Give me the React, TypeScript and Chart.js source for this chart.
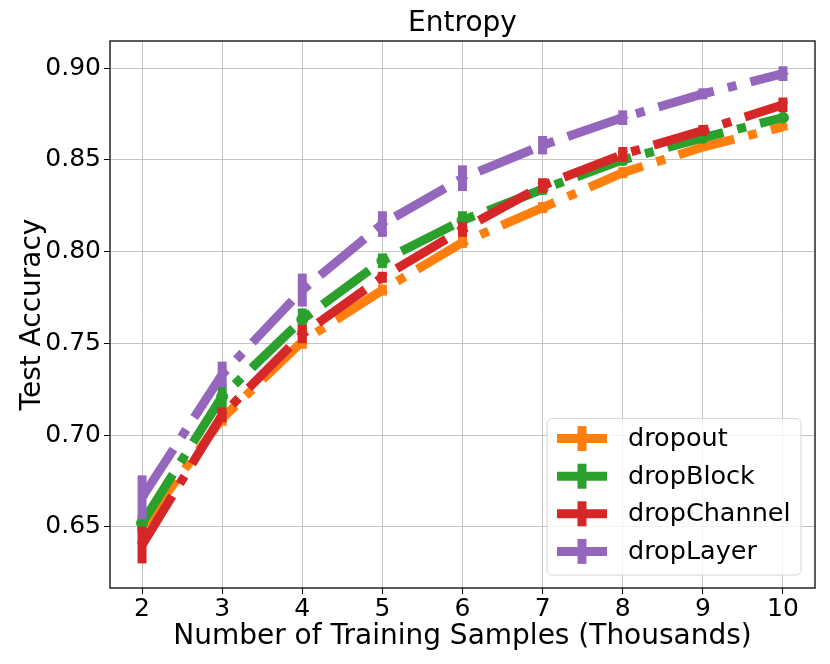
import { useEffect, useRef } from "react";
import { Chart, registerables } from "chart.js";

Chart.register(...registerables);

const samples = [2, 3, 4, 5, 6, 7, 8, 9, 10];
const seriesNames = ["dropout", "dropBlock", "dropChannel", "dropLayer"];
const dropoutAcc = [0.650, 0.709, 0.751, 0.779, 0.805, 0.824, 0.843, 0.857, 0.868];
const dropBlockAcc = [0.652, 0.721, 0.763, 0.795, 0.817, 0.834, 0.850, 0.862, 0.873];
const dropChannelAcc = [0.640, 0.711, 0.755, 0.786, 0.812, 0.836, 0.853, 0.866, 0.880];
const dropLayerAcc = [0.666, 0.733, 0.779, 0.815, 0.840, 0.858, 0.873, 0.886, 0.897];
const dropoutErr = [0.004, 0.004, 0.004, 0.003, 0.003, 0.003, 0.003, 0.002, 0.002];
const dropBlockErr = [0.004, 0.007, 0.006, 0.004, 0.005, 0.003, 0.003, 0.002, 0.002];
const dropChannelErr = [0.010, 0.004, 0.005, 0.003, 0.004, 0.004, 0.004, 0.003, 0.004];
const dropLayerErr = [0.012, 0.007, 0.009, 0.007, 0.007, 0.005, 0.004, 0.003, 0.004];
const xTickValues = [2, 3, 4, 5, 6, 7, 8, 9, 10];
const yTickValues = [0.65, 0.7, 0.75, 0.8, 0.85, 0.9];
const chartTitle = "Entropy";

const FONT = "DejaVu Sans";
const colors = ["#ff7f0e", "#2ca02c", "#d62728", "#9467bd"];
const pointStyles = ["triangle", "circle", "triangle", "triangle"];
const pointRotations = [0, 0, 180, 90];
const LW = 9;

const errorBarPlugin = {
  id: "errorBars",
  afterDatasetDraw(chart: any, args: any) {
    const ds: any = chart.data.datasets[args.index];
    const errs: number[] = ds.errors;
    if (!errs) return;
    const ctx = chart.ctx;
    const xs = chart.scales.x;
    const ys = chart.scales.y;
    ctx.save();
    ctx.strokeStyle = ds.borderColor;
    ctx.lineWidth = LW;
    ctx.lineCap = "butt";
    ds.data.forEach((p: any, i: number) => {
      const px = xs.getPixelForValue(p.x);
      ctx.beginPath();
      ctx.moveTo(px, ys.getPixelForValue(p.y - errs[i]));
      ctx.lineTo(px, ys.getPixelForValue(p.y + errs[i]));
      ctx.stroke();
    });
    ctx.restore();
  },
};

const framePlugin = {
  id: "frame",
  afterDatasetsDraw(chart: any) {
    const { ctx, chartArea: a } = chart;
    ctx.save();
    ctx.strokeStyle = "#262626";
    ctx.lineWidth = 1.5;
    ctx.strokeRect(a.left, a.top, a.right - a.left, a.bottom - a.top);
    ctx.fillStyle = "#000";
    ctx.font = `28px "${FONT}"`;
    ctx.textAlign = "center";
    ctx.textBaseline = "middle";
    ctx.fillText(chartTitle, (a.left + a.right) / 2, 24);
    ctx.restore();
  },
};

const legendPlugin = {
  id: "innerLegend",
  afterDraw(chart: any) {
    const ctx = chart.ctx;
    const a = chart.chartArea;
    const boxRight = a.right - 14;
    const boxBottom = a.bottom - 13;
    const boxW = 254;
    const rowH = 37.6;
    const n = chart.data.datasets.length;
    const boxH = rowH * n + 6;
    const left = boxRight - boxW;
    const top = boxBottom - boxH;
    ctx.save();
    ctx.fillStyle = "rgba(255,255,255,0.8)";
    ctx.strokeStyle = "#d6d6d6";
    ctx.lineWidth = 1;
    ctx.beginPath();
    (ctx as any).roundRect(left, top, boxW, boxH, 5);
    ctx.fill();
    ctx.stroke();
    chart.data.datasets.forEach((ds: any, i: number) => {
      const cy = top + 20 + i * rowH;
      ctx.strokeStyle = ds.borderColor;
      ctx.lineWidth = LW;
      ctx.lineCap = "butt";
      ctx.beginPath();
      ctx.moveTo(left + 10, cy);
      ctx.lineTo(left + 60, cy);
      ctx.stroke();
      ctx.beginPath();
      ctx.moveTo(left + 35, cy - 12.5);
      ctx.lineTo(left + 35, cy + 12.5);
      ctx.stroke();
      ctx.fillStyle = "#000";
      ctx.font = `25.5px "${FONT}"`;
      ctx.textBaseline = "middle";
      ctx.textAlign = "left";
      ctx.fillText(ds.label, left + 81, cy + 1);
    });
    ctx.restore();
  },
};

export default function App() {
  const ref = useRef<HTMLCanvasElement | null>(null);
  useEffect(() => {
    document.body.style.margin = "0";
    if (!ref.current) return;
    const accs = [dropoutAcc, dropBlockAcc, dropChannelAcc, dropLayerAcc];
    const errs = [dropoutErr, dropBlockErr, dropChannelErr, dropLayerErr];
    const datasets: any[] = seriesNames.map((name, i) => ({
      label: name,
      data: samples.map((x, j) => ({ x, y: accs[i][j] })),
      errors: errs[i],
      borderColor: colors[i],
      backgroundColor: colors[i],
      borderWidth: LW,
      borderDash: [57.6, 14.4, 9, 14.4],
      borderCapStyle: "butt",
      borderJoinStyle: "round",
      pointStyle: pointStyles[i],
      rotation: pointRotations[i],
      pointRadius: 5.5,
      pointBorderWidth: 1,
      pointBackgroundColor: colors[i],
      pointBorderColor: colors[i],
      tension: 0,
      fill: false,
      order: 3 - i,
    }));
    const chart = new Chart(ref.current, {
      type: "line",
      data: { datasets },
      plugins: [errorBarPlugin, framePlugin, legendPlugin],
      options: {
        animation: false,
        responsive: false,
        devicePixelRatio: 1,
        layout: { padding: { left: 0, right: 15, top: 41, bottom: 0 } },
        plugins: {
          legend: { display: false },
          tooltip: { enabled: false },
          title: { display: false },
        },
        scales: {
          x: {
            type: "linear",
            min: 1.6,
            max: 10.4,
            afterBuildTicks: (s: any) => {
              s.ticks = xTickValues.map((v) => ({ value: v }));
            },
            afterFit: (s: any) => {
              s.height = 76;
            },
            ticks: {
              color: "#000",
              font: { family: FONT, size: 25 },
              padding: 0,
              maxRotation: 0,
              autoSkip: false,
              callback: (v: any) => String(v),
            },
            grid: { color: "#c4c4c4", lineWidth: 1, tickLength: 6, tickColor: "#000" },
            border: { display: false },
            title: {
              display: true,
              text: "Number of Training Samples (Thousands)",
              color: "#000",
              font: { family: FONT, size: 28 },
              padding: { top: 0, bottom: 10 },
            },
          },
          y: {
            type: "linear",
            min: 0.6166,
            max: 0.9148,
            afterBuildTicks: (s: any) => {
              s.ticks = yTickValues.map((v) => ({ value: v }));
            },
            afterFit: (s: any) => {
              s.width = 110;
            },
            ticks: {
              color: "#000",
              font: { family: FONT, size: 25 },
              padding: 3,
              autoSkip: false,
              callback: (v: any) => Number(v).toFixed(2),
            },
            grid: { color: "#c4c4c4", lineWidth: 1, tickLength: 6, tickColor: "#000" },
            border: { display: false },
            title: {
              display: true,
              text: "Test Accuracy",
              color: "#000",
              font: { family: FONT, size: 28 },
              padding: { top: 16, bottom: 0 },
            },
          },
        },
      },
    });
    return () => chart.destroy();
  }, []);
  return <canvas ref={ref} width={830} height={664} style={{ display: "block" }} />;
}
